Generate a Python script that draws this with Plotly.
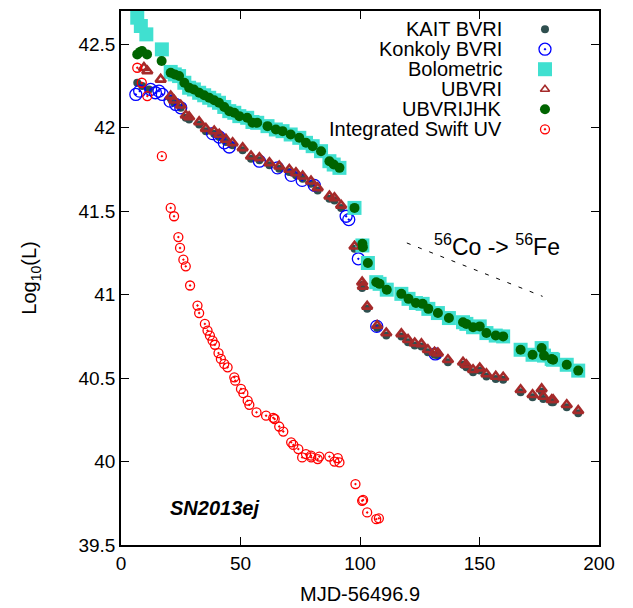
import plotly.graph_objects as go

FONT = "Liberation Sans, Arial, sans-serif"

# KAIT BVRI
kait_t = [6.8, 8.9, 11.7, 20.8, 22.2, 25.0, 27.1, 28.5, 32.7, 35.5, 39.0, 41.1, 43.9, 46.7,
          50.9, 54.4, 57.9, 62.1, 66.2, 70.4, 73.2, 76.0, 79.5, 82.3, 87.2, 89.3, 92.1,
          97.7, 100.9, 101.2, 103.0, 107.2, 111.0, 117.3, 120.1, 122.9, 125.7, 128.4,
          131.2, 132.6, 136.8, 143.1, 144.5, 147.3, 150.1, 152.9, 156.8, 159.9, 167.2,
          172.2, 176.0, 176.7, 180.2, 180.8, 186.5, 191.3]
kait_l = [42.27, 42.25, 42.23, 42.175, 42.15, 42.12, 42.06, 42.05, 42.02, 41.98, 41.965,
          41.945, 41.915, 41.895, 41.865, 41.815, 41.805, 41.775, 41.755, 41.735, 41.715,
          41.695, 41.665, 41.625, 41.575, 41.565, 41.52, 41.275, 41.04, 41.06, 40.915,
          40.80, 40.755, 40.75, 40.715, 40.695, 40.69, 40.655, 40.64, 40.635, 40.595,
          40.58, 40.565, 40.535, 40.545, 40.51, 40.495, 40.49, 40.415, 40.385, 40.42,
          40.375, 40.355, 40.355, 40.325, 40.29]

# Konkoly BVRI
konk_t = [6.2, 7.8, 12.4, 14.4, 15.9, 17.3, 20.5, 22.9, 25.0, 38.3, 41.1, 43.2, 45.3,
          57.9, 65.5, 71.2, 75.8, 80.9, 94.2, 95.3, 99.3, 107.0, 131.5]
konk_l = [42.20, 42.22, 42.23, 42.21, 42.22, 42.20, 42.16, 42.14, 42.12, 41.965, 41.945,
          41.91, 41.885, 41.80, 41.76, 41.715, 41.685, 41.655, 41.47, 41.45, 41.215,
          40.81, 40.645]

# Bolometric
bol_t = [6.8, 8.3, 10.6, 17.1, 20.8, 22.5, 24.3, 26.5, 28.5, 30.5, 32.7, 34.8, 36.9, 39.0,
         41.0, 43.2, 45.3, 47.4, 49.5, 52.8, 55.0, 57.0, 61.3, 64.8, 67.6, 71.0, 74.6,
         77.4, 80.2, 83.7, 87.2, 89.0, 91.4, 97.7, 101.0, 103.3, 106.8, 108.2, 111.2,
         117.3, 120.3, 123.4, 126.2, 128.6, 132.6, 137.2, 143.1, 144.5, 147.3, 150.1,
         152.9, 156.8, 159.9, 167.2, 172.2, 176.0, 177.0, 180.2, 180.8, 186.5, 191.3]
bol_l = [42.66, 42.61, 42.56, 42.47, 42.335, 42.32, 42.31, 42.27, 42.24, 42.23, 42.21,
         42.195, 42.18, 42.165, 42.15, 42.125, 42.10, 42.09, 42.07, 42.06, 42.035, 42.03,
         42.01, 41.99, 41.98, 41.96, 41.94, 41.91, 41.89, 41.86, 41.80, 41.78, 41.76,
         41.52, 41.295, 41.19, 41.075, 41.065, 41.03, 41.005, 40.975, 40.95, 40.945,
         40.915, 40.89, 40.86, 40.835, 40.825, 40.805, 40.81, 40.77, 40.755, 40.75,
         40.67, 40.64, 40.68, 40.635, 40.615, 40.61, 40.58, 40.545]

# UBVRI
ubvri_t = [9.6, 11.0, 16.6, 20.8, 22.2, 25.0, 27.1, 28.5, 32.7, 35.5, 39.0, 41.1, 43.9,
           46.7, 50.9, 54.4, 57.9, 62.1, 66.2, 70.4, 73.2, 76.0, 79.5, 82.3, 87.2, 89.3,
           92.1, 97.7, 100.9, 101.2, 103.0, 107.2, 111.0, 117.3, 120.1, 122.9, 125.7,
           128.4, 131.2, 132.6, 136.8, 143.1, 144.5, 147.3, 150.1, 152.9, 156.8, 159.9,
           167.2, 172.2, 176.0, 176.7, 180.2, 180.8, 186.5, 191.3]
ubvri_l = [42.36, 42.34, 42.29, 42.19, 42.165, 42.135, 42.075, 42.065, 42.035, 41.995,
           41.98, 41.96, 41.93, 41.91, 41.88, 41.83, 41.82, 41.79, 41.77, 41.75, 41.73,
           41.71, 41.68, 41.64, 41.59, 41.58, 41.535, 41.29, 41.075, 41.05, 40.93, 40.815,
           40.77, 40.765, 40.73, 40.71, 40.705, 40.67, 40.655, 40.65, 40.61, 40.595,
           40.58, 40.55, 40.56, 40.525, 40.51, 40.505, 40.43, 40.40, 40.435, 40.39, 40.37,
           40.37, 40.34, 40.305]

# UBVRIJHK
ubvrijhk_t = [6.8, 8.0, 8.8, 10.9, 17.0, 20.8, 22.5, 24.3, 26.5, 28.5, 30.5, 32.7, 34.8,
              36.9, 39.0, 41.0, 43.2, 45.3, 47.4, 49.5, 52.8, 55.0, 57.0, 61.3, 64.8, 67.6,
              71.0, 74.6, 77.4, 80.2, 83.7, 87.2, 89.0, 91.4, 97.7, 101.0, 101.2, 103.3,
              106.8, 108.2, 111.2, 117.3, 120.3, 123.4, 126.2, 128.6, 132.6, 137.2, 143.1,
              144.5, 147.3, 150.1, 152.9, 156.8, 159.9, 167.2, 172.2, 176.0, 177.0, 180.2,
              180.8, 186.5, 191.3]
ubvrijhk_l = [42.44, 42.455, 42.46, 42.44, 42.40, 42.33, 42.32, 42.31, 42.27, 42.24, 42.23,
              42.21, 42.195, 42.18, 42.165, 42.15, 42.125, 42.10, 42.09, 42.07, 42.06,
              42.03, 42.03, 42.01, 41.99, 41.98, 41.96, 41.94, 41.91, 41.89, 41.86, 41.80,
              41.78, 41.76, 41.52, 41.305, 41.285, 41.19, 41.075, 41.065, 41.03, 41.005,
              40.975, 40.95, 40.945, 40.915, 40.89, 40.86, 40.835, 40.825, 40.805, 40.81,
              40.77, 40.755, 40.75, 40.67, 40.64, 40.68, 40.635, 40.615, 40.61, 40.58,
              40.545]

# Integrated Swift UV
swift_t = [6.8, 8.7, 11.0, 17.1, 20.8, 22.2, 24.0, 24.7, 26.1, 27.1, 28.9, 32.0, 32.7,
           35.1, 36.2, 37.2, 38.3, 39.3, 40.8, 41.8, 43.2, 44.6, 47.4, 47.8, 50.2, 51.2,
           53.0, 53.7, 56.7, 60.7, 63.7, 64.3, 66.2, 67.9, 71.2, 72.1, 74.2, 75.8, 77.4,
           79.5, 79.6, 82.3, 83.0, 87.2, 89.3, 90.7, 91.4, 98.1, 100.9, 101.3, 103.0,
           106.8, 107.9]
swift_l = [42.36, 42.27, 42.19, 41.83, 41.52, 41.47, 41.345, 41.28, 41.21, 41.17, 41.055,
           40.935, 40.89, 40.825, 40.785, 40.755, 40.725, 40.70, 40.65, 40.615, 40.585,
           40.565, 40.505, 40.485, 40.435, 40.41, 40.365, 40.34, 40.295, 40.275, 40.262,
           40.255, 40.21, 40.18, 40.115, 40.10, 40.075, 40.025, 40.045, 40.035, 40.025,
           40.015, 40.03, 40.03, 40.00, 40.02, 39.995, 39.865, 39.765, 39.77, 39.695,
           39.655, 39.66]

# 56Co decay guide line
decay_t = [119.6, 176.4]
decay_l = [41.31, 40.99]

series = [
    ("KAIT BVRI", kait_t, kait_l, dict(symbol="circle", size=8, color="#2F4F4F")),
    ("Konkoly BVRI", konk_t, konk_l,
     dict(symbol="circle-open-dot", size=12, color="#0000FF", line=dict(width=1.3))),
    ("Bolometric", bol_t, bol_l, dict(symbol="square", size=14, color="#40E0D0")),
    ("UBVRI", ubvri_t, ubvri_l,
     dict(symbol="triangle-up-open", size=9, color="#A52A2A", line=dict(width=2.6))),
    ("UBVRIJHK", ubvrijhk_t, ubvrijhk_l, dict(symbol="circle", size=10, color="#006400")),
    ("Integrated Swift UV", swift_t, swift_l,
     dict(symbol="circle-open-dot", size=9, color="#FF0000", line=dict(width=1.3))),
]

fig = go.Figure()

for name, t, lum, marker in series:
    fig.add_trace(go.Scatter(x=t, y=lum, mode="markers", name=name,
                             marker=marker, showlegend=False))

fig.add_trace(go.Scatter(x=decay_t, y=decay_l, mode="lines", showlegend=False,
                         line=dict(color="black", width=1, dash="4px,8px")))

# hand-made key: text on the left, symbol on the right (gnuplot style)
key_x_text = 0.801
key_x_sym = 0.887
key_top = 0.966
key_step = 0.0375
for i, (name, _, _, marker) in enumerate(series):
    ky = key_top - i * key_step
    if name == "UBVRI":
        marker = dict(marker, size=8, line=dict(width=1.6))
    fig.add_trace(go.Scatter(x=[key_x_sym], y=[ky], mode="markers", marker=marker,
                             xaxis="x2", yaxis="y2", showlegend=False, hoverinfo="skip"))
    fig.add_annotation(x=key_x_text, y=ky, xref="paper", yref="paper", text=name,
                       showarrow=False, xanchor="right", yanchor="middle",
                       font=dict(size=20, color="black"))

fig.add_annotation(x=157.3, y=41.30, text="<sup>56</sup>Co -> <sup>56</sup>Fe",
                   showarrow=False, font=dict(size=23, color="black"))
fig.add_annotation(x=39.1, y=39.72, text="<b><i>SN2013ej</i></b>",
                   showarrow=False, font=dict(size=20, color="black"))

axis_style = dict(showline=True, linecolor="black", linewidth=1.5, mirror="ticks",
                  ticks="inside", ticklen=8, tickwidth=1, tickcolor="black",
                  showgrid=False, zeroline=False, tickfont=dict(size=19, color="black"))

# the page body adds an 8px offset, so the margins are shifted to compensate
fig.update_layout(
    width=633, height=608,
    margin=dict(l=113, r=42, t=1, b=71),
    paper_bgcolor="white", plot_bgcolor="white",
    font=dict(family=FONT, color="black"),
    xaxis=dict(range=[0, 200], dtick=50, tick0=0,
               title=dict(text="MJD-56496.9", font=dict(size=20), standoff=14),
               **axis_style),
    yaxis=dict(range=[39.5, 42.7], dtick=0.5, tick0=39.5,
               title=dict(text="Log<sub>10</sub>(L)", font=dict(size=20), standoff=36),
               **axis_style),
    xaxis2=dict(overlaying="x", range=[0, 1], visible=False, anchor="y2"),
    yaxis2=dict(overlaying="y", range=[0, 1], visible=False, anchor="x2"),
)

fig.write_html("out.html")
